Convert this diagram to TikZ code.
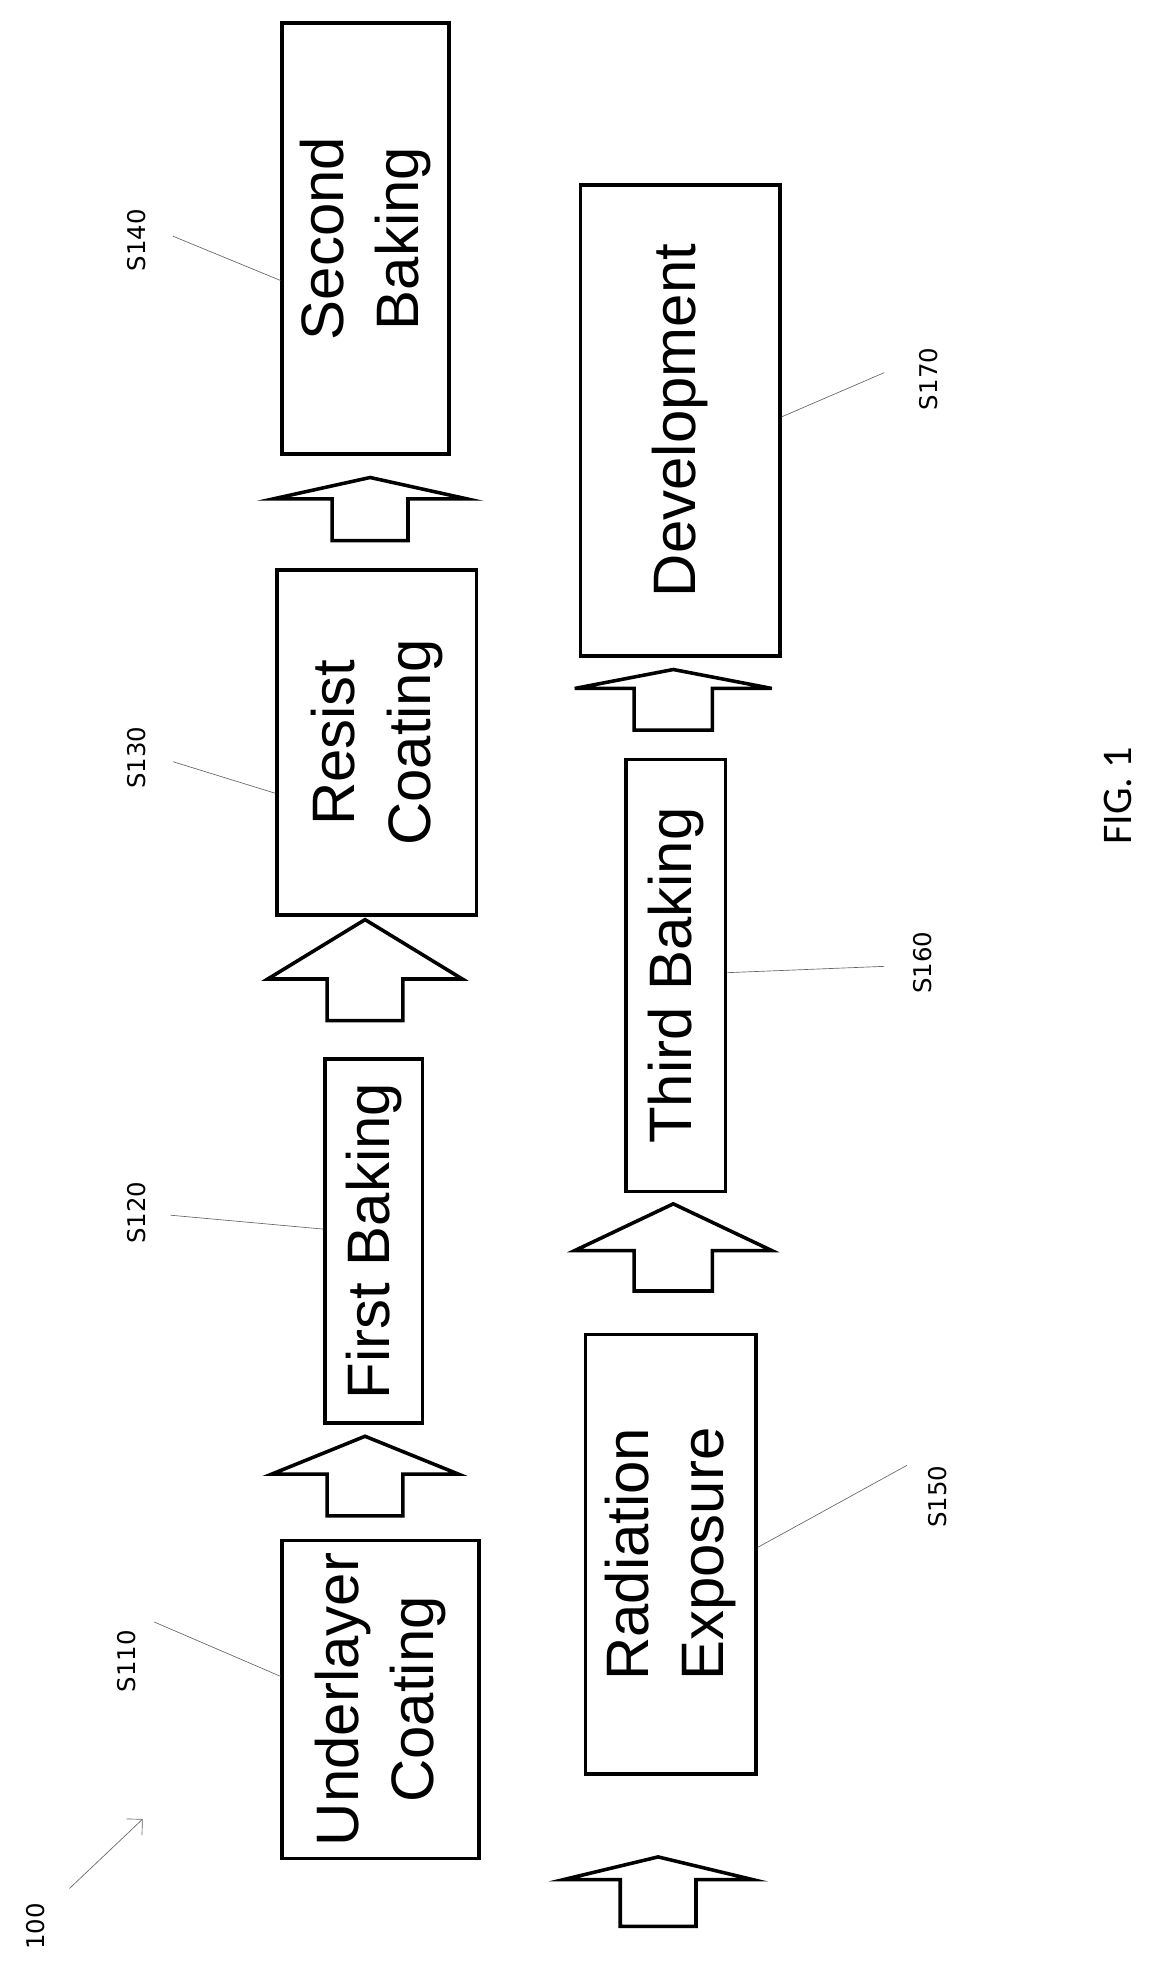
\documentclass[tikz,border=0pt]{standalone}
\usepackage{fontspec}
\usetikzlibrary{arrows.meta}
\setmainfont{Liberation Sans}
\newfontfamily\labelfont{DejaVu Sans}
\newfontfamily\figfont{Carlito}
\begin{document}
\begin{tikzpicture}[x=0.02cm, y=-0.02cm,
  procbox/.style={rectangle, draw=black, line width=1.6pt, anchor=north west, inner sep=0pt},
  proctext/.style={rotate=90, align=center, font=\fontsize{27}{34}\selectfont},
  lbl/.style={rotate=90, font=\labelfont\fontsize{11}{13}\selectfont},
  leader/.style={draw=black!60, line width=0.3pt}]

\useasboundingbox (0,0) rectangle (920,1573);

% process steps
\node at (222,1218)[procbox, minimum width=3.12cm, minimum height=5.04cm] (s110) {};
\node at (256,837) [procbox, minimum width=1.54cm, minimum height=5.76cm] (s120) {};
\node at (218,450) [procbox, minimum width=3.16cm, minimum height=5.46cm] (s130) {};
\node at (222,17)  [procbox, minimum width=2.64cm, minimum height=6.82cm] (s140) {};
\node at (462,1055)[procbox, minimum width=2.70cm, minimum height=6.96cm] (s150) {};
\node at (494,600) [procbox, minimum width=1.58cm, minimum height=6.84cm] (s160) {};
\node at (458,145) [procbox, minimum width=3.16cm, minimum height=7.46cm] (s170) {};

\node[proctext] at (s110) {Underlayer\\Coating};
\node[proctext] at (s120) {First Baking};
\node[proctext] at (s130) {Resist\\Coating};
\node[proctext] at (s140) {Second\\Baking};
\node[proctext] at (s150) {Radiation\\Exposure};
\node[proctext] at (s160) {Third Baking};
\node[proctext] at (s170) {Development};

% block arrows: centre x, tip, head base, bottom, head half width, shaft half width
\foreach \cx/\tip/\hb/\bot/\hw/\sw in {289/1137/1167/1200/74/30, 289/728/775/808/77/30, 293/378/395/428/77/30,
  521/1470/1488/1525/75/30, 533/953/990/1022/78/31, 533/530/545/578/78/31}
  \draw[line width=1.6pt, line join=miter]
    (\cx,\tip) -- (\cx+\hw,\hb) -- (\cx+\sw,\hb) -- (\cx+\sw,\bot) -- (\cx-\sw,\bot) -- (\cx-\sw,\hb) -- (\cx-\hw,\hb) -- cycle;

% reference labels
\node[lbl] (l110) at (100,1315) {S110};
\node[lbl] (l120) at (108,960) {S120};
\node[lbl] (l130) at (108,600) {S130};
\node[lbl] (l140) at (108,190) {S140};
\node[lbl] (l150) at (742,1185) {S150};
\node[lbl] (l160) at (730,762) {S160};
\node[lbl] (l170) at (735,300) {S170};
\node[lbl] (l100) at (28,1525) {100};

\coordinate (b110) at (122,1284);
\coordinate (b120) at (135,962);
\coordinate (b130) at (137,603);
\coordinate (b140) at (137,187);
\coordinate (b150) at (718,1160);
\coordinate (b160) at (700,765);
\coordinate (b170) at (700,295);
\coordinate (b100) at (55,1495);

\coordinate (e110) at (s110.west |- 0,1327);
\coordinate (e120) at (s120.west |- 0,973);
\coordinate (e130) at (s130.west |- 0,628);
\coordinate (e140) at (s140.west |- 0,222);
\coordinate (e150) at (s150.east |- 0,1225);
\coordinate (e160) at (s160.east |- 0,770);
\coordinate (e170) at (s170.east |- 0,330);
\coordinate (e100) at (113,1440);

\foreach \n in {110,120,130,140,150,160,170}
  \draw[leader] (b\n) -- (e\n);
\draw[leader, ->, >={Straight Barb[length=5pt]}] (b100) -- (e100);

\node[rotate=90, font=\figfont\fontsize{19}{22}\selectfont] (fig) at (885,630) {FIG. 1};
\end{tikzpicture}
\end{document}
